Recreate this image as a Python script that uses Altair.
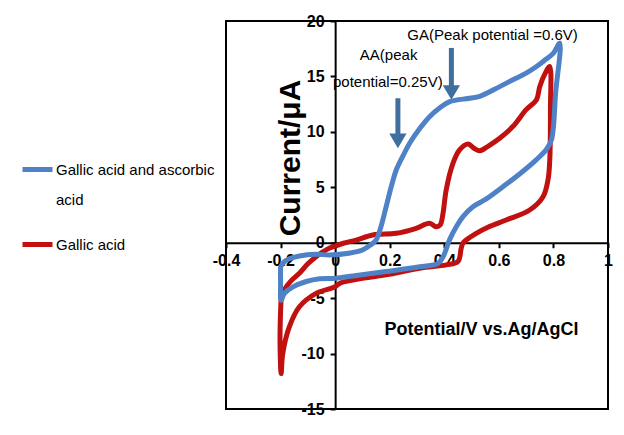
import altair as alt
import pandas as pd

# ---- data ----
series_names = ["Gallic acid and ascorbic acid", "Gallic acid"]
series_colors = ["#4F81C7", "#C01010"]

blue_x = [-0.200, -0.190, -0.168, -0.131, -0.070, -0.020, 0.050, 0.100, 0.130, 0.150,
          0.165, 0.187, 0.205, 0.224, 0.250, 0.273, 0.310, 0.346, 0.385, 0.420,
          0.493, 0.530, 0.603, 0.652, 0.700, 0.738, 0.770, 0.800, 0.823, 0.808,
          0.793, 0.774, 0.738, 0.676, 0.615, 0.554, 0.505, 0.470, 0.444, 0.420,
          0.395, 0.377, 0.310, 0.187, 0.065, 0.000, -0.057, -0.106, -0.156, -0.186,
          -0.198, -0.200, -0.200]
blue_y = [-2.2, -1.8, -1.45, -1.2, -1.05, -1.1, -0.95, -0.66, -0.2, 0.24,
          1.2, 3.25, 5.0, 6.56, 7.9, 8.97, 10.3, 11.37, 12.2, 12.73,
          13.03, 13.2, 14.08, 14.7, 15.3, 15.9, 16.5, 17.1, 18.0, 13.5,
          9.3, 8.4, 7.5, 6.2, 5.05, 3.95, 3.25, 2.4, 1.44, 0.3,
          -1.3, -1.86, -2.17, -2.6, -3.0, -3.2, -3.25, -3.5, -4.0, -4.57,
          -5.2, -3.6, -2.2]

red_x = [-0.198, -0.185, -0.160, -0.131, -0.100, -0.070, -0.030, 0.000, 0.030, 0.077,
         0.138, 0.224, 0.297, 0.346, 0.370, 0.385, 0.395, 0.407, 0.432, 0.456,
         0.487, 0.510, 0.530, 0.560, 0.603, 0.652, 0.700, 0.738, 0.750, 0.770,
         0.786, 0.789, 0.786, 0.780, 0.762, 0.713, 0.627, 0.560, 0.517, 0.480,
         0.468, 0.462, 0.450, 0.407, 0.310, 0.187, 0.065, 0.016, 0.000, -0.070,
         -0.131, -0.168, -0.192, -0.198, -0.202, -0.201, -0.198]
red_y = [-5.0, -4.2, -3.4, -2.76, -1.9, -1.26, -0.6, -0.3, -0.05, 0.24,
         0.7, 0.85, 1.3, 1.75, 1.44, 1.6, 2.6, 4.76, 7.17, 8.37,
         8.9, 8.5, 8.3, 8.7, 9.42, 10.5, 12.0, 12.9, 14.1, 15.3,
         15.9, 12.0, 7.17, 5.66, 4.15, 2.95, 2.05, 1.4, 0.85, 0.24,
         -0.05, -0.5, -1.7, -2.0, -2.3, -2.9, -3.37, -3.67, -3.97, -4.57,
         -5.78, -7.6, -10.0, -11.8, -9.0, -7.0, -5.0]

x_ticks = [-0.4, -0.2, 0, 0.2, 0.4, 0.6, 0.8, 1]
y_ticks = [-15, -10, -5, 0, 5, 10, 15, 20]
x_domain = [-0.4, 1.0]
y_domain = [-15, 20]

note_text = ["GA(Peak potential =0.6V)", "AA(peak", "potential=0.25V)"]
note_x = [0.577, 0.196, 0.193]
note_y = [18.75, 16.94, 14.5]

arrow_x = [0.426, 0.230]
arrow_top = [17.57, 13.03]
arrow_base = [14.0, 9.6]
arrow_head = [13.55, 9.19]

# ---- layout ----
W, H = 382, 388
font = "'Liberation Sans', Arial, sans-serif"

x_off = -H * (0 - y_domain[0]) / (y_domain[1] - y_domain[0])
y_off = -W * (0 - x_domain[0]) / (x_domain[1] - x_domain[0])
y_axis_x = -y_off

blue = pd.DataFrame({"x": blue_x, "y": blue_y, "i": range(len(blue_x)),
                     "series": series_names[0]})
red = pd.DataFrame({"x": red_x, "y": red_y, "i": range(len(red_x)),
                    "series": series_names[1]})

color_scale = alt.Scale(domain=series_names, range=series_colors)

xs = alt.Scale(domain=x_domain, nice=False, zero=False)
ys = alt.Scale(domain=y_domain, nice=False, zero=False)

x_axis = alt.Axis(values=x_ticks, labelExpr="'' + datum.value", offset=x_off,
                  title="Potential/V vs.Ag/AgCl", titleX=255, titleY=87,
                  titleAlign="center", titleBaseline="middle",
                  titleFont=font, titleFontSize=18, titleFontWeight="bold",
                  labelPadding=5, labelFlush=False, labelOverlap=False, labelBound=False)
y_axis = alt.Axis(values=y_ticks, labelExpr="'' + datum.value", offset=y_off,
                  title="Current/μA", titleAngle=-90, titleX=64.7 - y_axis_x, titleY=136.5,
                  titleAlign="center", titleBaseline="middle",
                  titleFont=font, titleFontSize=30, titleFontWeight="bold",
                  labelPadding=6, labelFlush=False, labelOverlap=False, labelBound=False)

legend = alt.Legend(title=None, orient="none", legendX=-206, legendY=131,
                    symbolType="stroke", symbolStrokeWidth=5, symbolSize=900,
                    labelFont=font, labelFontSize=15, labelColor="black",
                    labelLimit=400, labelOffset=1, rowPadding=19,
                    labelExpr="datum.label == 'Gallic acid and ascorbic acid' ? ['Gallic acid and ascorbic', 'acid'] : datum.label")

line_kw = dict(strokeWidth=5, strokeCap="round", strokeJoin="round", interpolate="catmull-rom")

red_line = alt.Chart(red).mark_line(**line_kw).encode(
    x=alt.X("x:Q", scale=xs, axis=x_axis),
    y=alt.Y("y:Q", scale=ys, axis=y_axis),
    color=alt.Color("series:N", scale=color_scale, legend=legend),
    order=alt.Order("i:Q"),
)
blue_line = alt.Chart(blue).mark_line(**line_kw).encode(
    x=alt.X("x:Q", scale=xs),
    y=alt.Y("y:Q", scale=ys),
    color=alt.Color("series:N", scale=color_scale, legend=legend),
    order=alt.Order("i:Q"),
)

notes = alt.Chart(pd.DataFrame({"t": note_text, "x": note_x, "y": note_y})).mark_text(
    font=font, fontSize=15, color="black", align="center", baseline="middle"
).encode(x=alt.X("x:Q", scale=xs), y=alt.Y("y:Q", scale=ys), text="t:N")

arr = pd.DataFrame({"x": arrow_x, "top": arrow_top, "base": arrow_base, "head": arrow_head})
shafts = alt.Chart(arr).mark_rule(strokeWidth=5, color="#3F6F9E").encode(
    x=alt.X("x:Q", scale=xs), y=alt.Y("top:Q", scale=ys), y2="base:Q")
heads = alt.Chart(arr).mark_point(shape="M-1,-0.85L1,-0.85L0,0.85Z", filled=True, size=300,
                                  color="#3F6F9E", opacity=1).encode(
    x=alt.X("x:Q", scale=xs), y=alt.Y("head:Q", scale=ys))

chart = alt.layer(red_line, blue_line, notes, shafts, heads).properties(
    width=W, height=H,
    padding={"left": 218, "top": 13, "right": 6, "bottom": 10},
    autosize=alt.AutoSizeParams(type="none"),
    background="white",
).configure(
    view={"stroke": "black", "strokeWidth": 2},
    axis={"domainColor": "black", "domainWidth": 2, "tickColor": "black", "tickWidth": 2,
          "tickSize": 5, "grid": False, "labelFont": font, "labelFontSize": 16,
          "labelFontWeight": "bold", "labelColor": "black", "titleColor": "black"},
    style={"guide-label": {"lineHeight": 30}},
)

chart.save("out.html", embed_options={"renderer": "svg", "actions": False})
